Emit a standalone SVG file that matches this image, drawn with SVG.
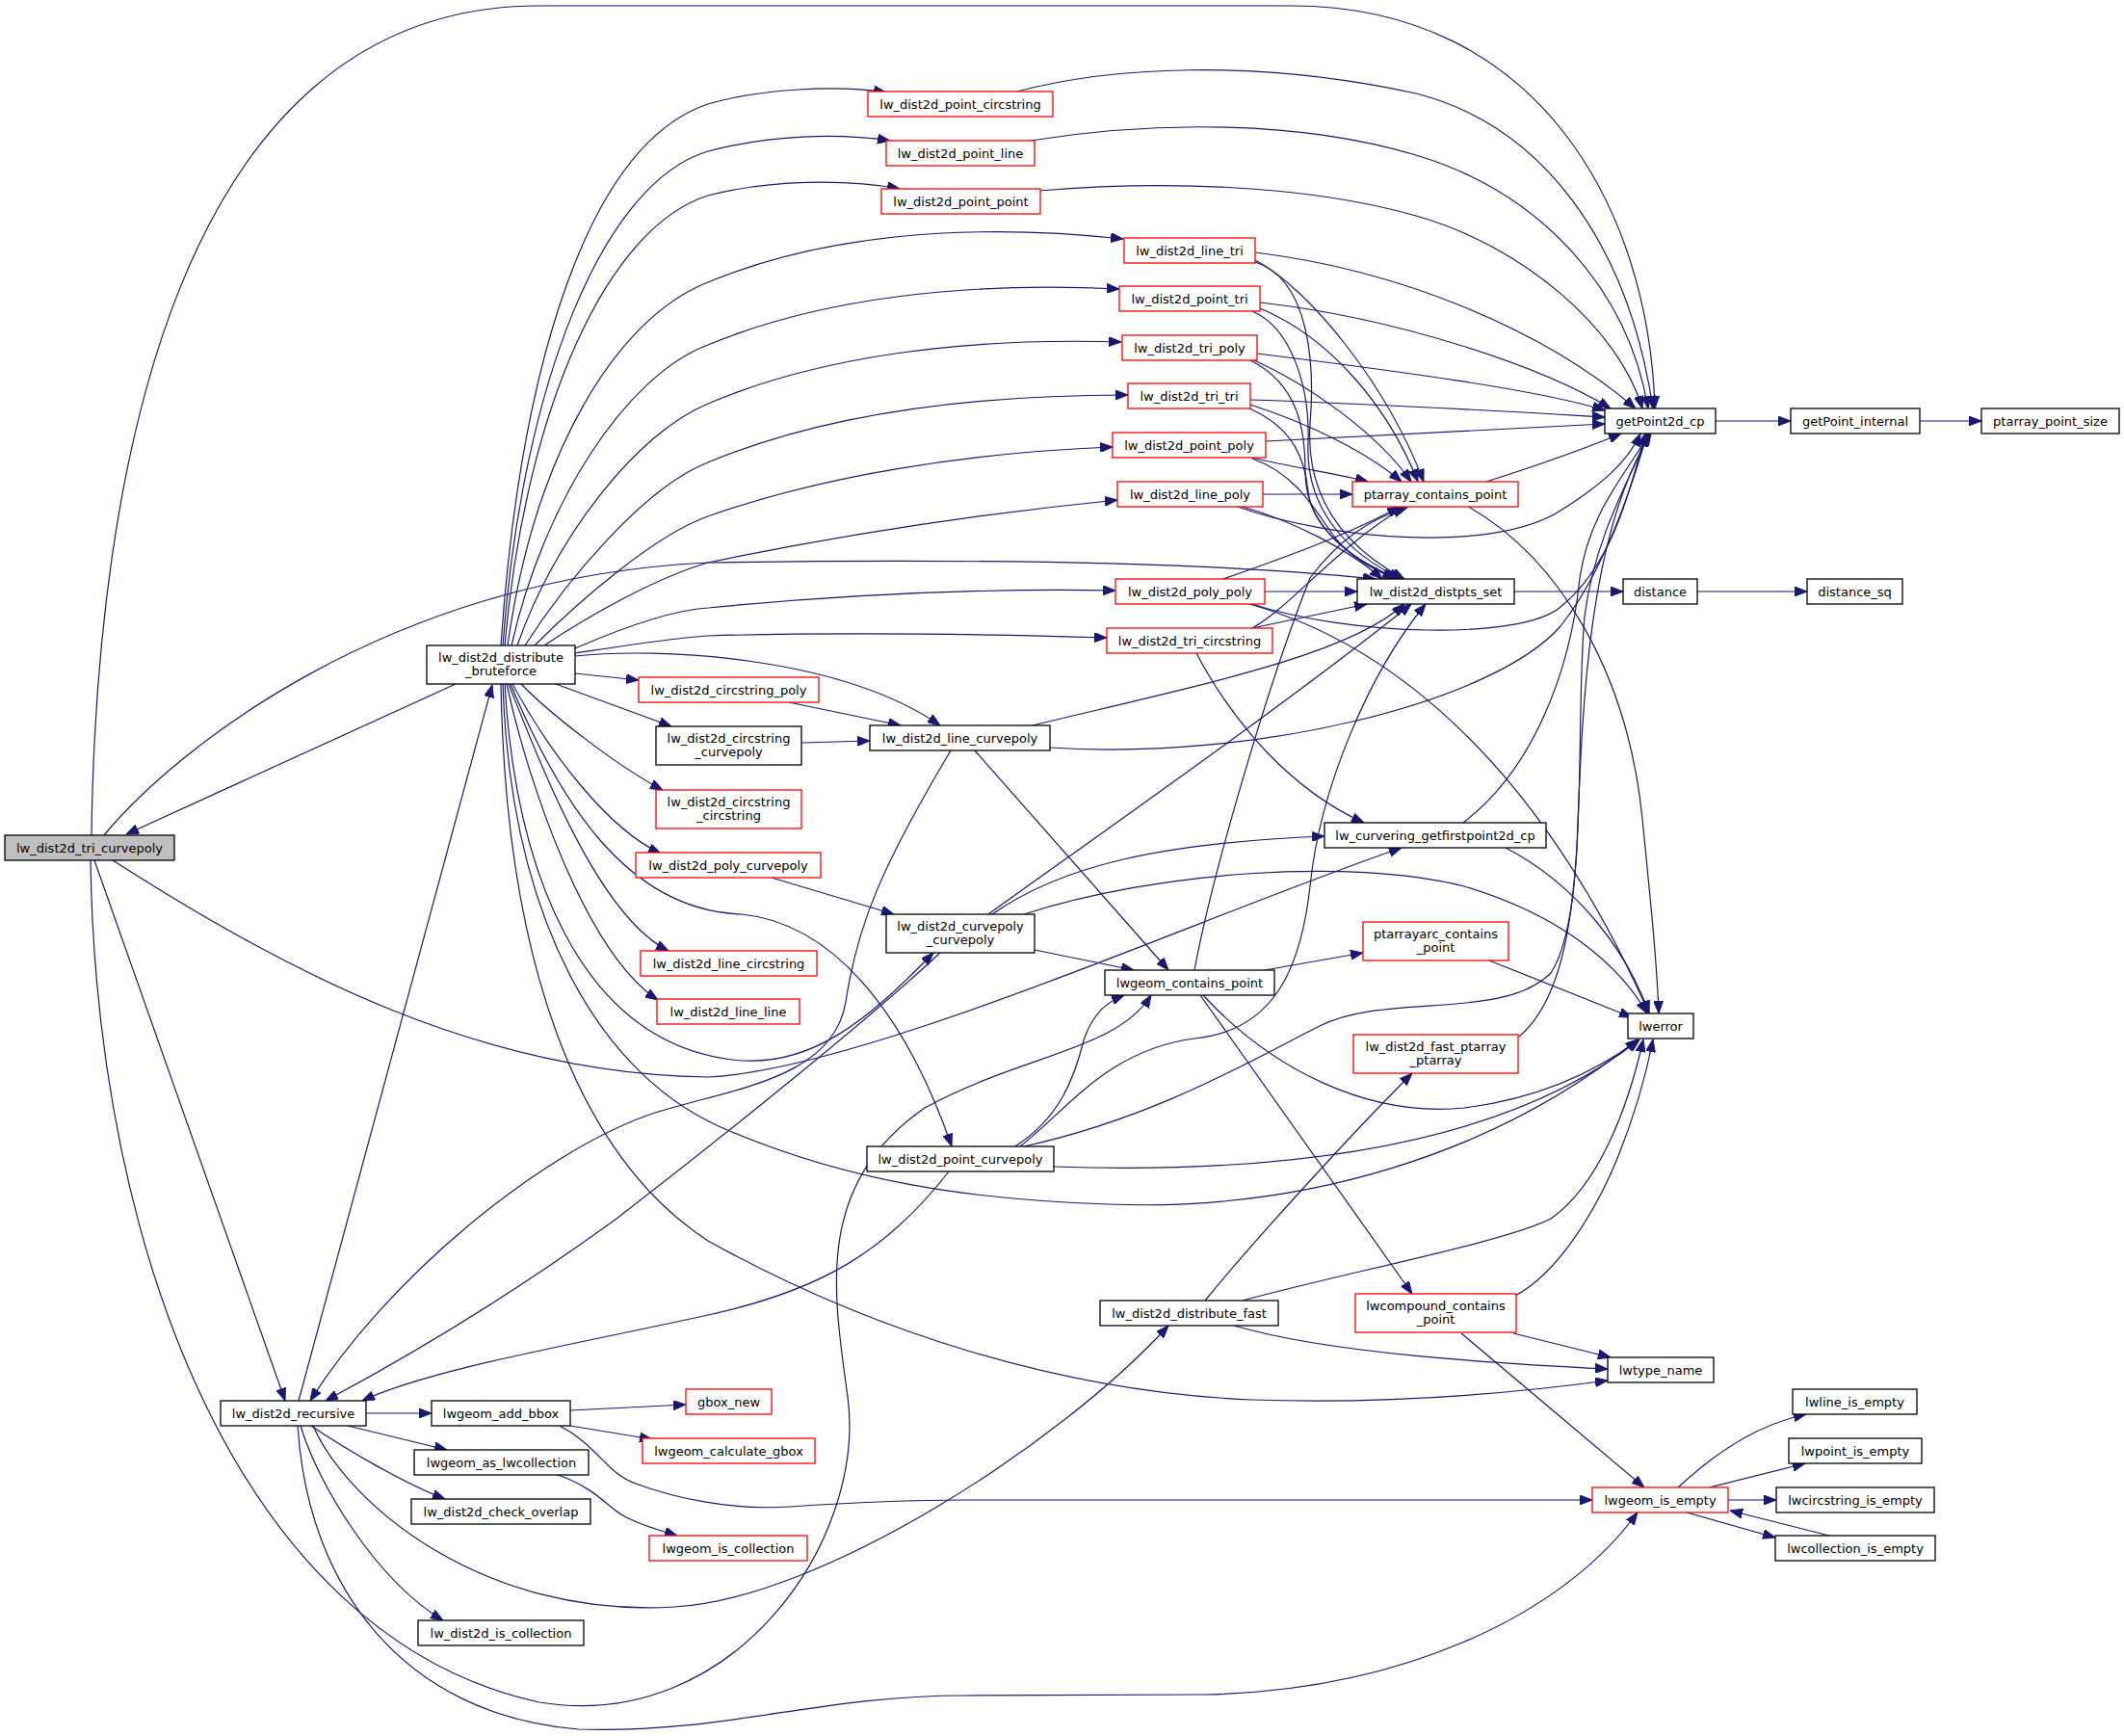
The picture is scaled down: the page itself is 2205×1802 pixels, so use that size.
<svg xmlns="http://www.w3.org/2000/svg" width="2205" height="1802" viewBox="0 0 2205 1802">
<defs>
<marker id="a" viewBox="0 0 13 10" refX="13" refY="5" markerWidth="13" markerHeight="10" markerUnits="userSpaceOnUse" orient="auto"><path d="M0,0L13,5L0,10z" fill="#191970" stroke="#191970" stroke-width="1"/></marker>
</defs>
<style>
.node rect{fill:#fff;stroke:#000;stroke-width:1.3}
.node.red rect{stroke:#ff0000}
.node.root rect{fill:#bfbfbf}
text{font-family:"DejaVu Sans","Liberation Sans",sans-serif;font-size:13px;text-anchor:middle;fill:#000}
#edges path{fill:none;stroke:#191970;stroke-width:1.2;marker-end:url(#a)}
</style>
<rect width="2205" height="1802" fill="#fff"/>
<g id="edges">
<path d="M95,867 C100,500 180,6 560,6 L1340,6 C1600,6 1712,220 1718,424"/>
<path d="M108,867 C180,780 400,600 735,584 C1000,580 1250,582 1428,601"/>
<path d="M98,893 L296,1454"/>
<path d="M117,893 C300,1010 500,1115 735,1118 C900,1110 1250,950 1455,880"/>
<path d="M94,893 C100,1300 250,1700 560,1767 C760,1800 900,1600 880,1450 C865,1340 845,1230 960,1150 C1060,1095 1160,1090 1195,1033"/>
<path d="M473,710 L131,866"/>
<path d="M520,670 C540,380 610,150 735,108 C790,92 870,88 920,96"/>
<path d="M522,670 C542,400 625,190 735,157 C800,140 870,138 924,146"/>
<path d="M524,670 C546,420 632,235 735,203 C800,186 880,186 934,196"/>
<path d="M527,670 C555,470 640,330 735,293 C850,245 1000,230 1166,248"/>
<path d="M531,670 C565,520 650,390 735,358 C850,310 1000,292 1162,300"/>
<path d="M537,670 C575,560 660,450 735,419 C850,370 1000,350 1164,355"/>
<path d="M545,670 C590,600 670,505 735,480 C850,432 1000,410 1171,410"/>
<path d="M555,670 C600,625 680,555 735,536 C850,495 1000,470 1155,464"/>
<path d="M565,670 C610,640 680,600 735,584 C850,560 1000,535 1160,519"/>
<path d="M597,673 C650,650 700,633 735,631 C900,615 1050,611 1158,613"/>
<path d="M597,678 C650,670 700,662 735,660 C900,655 1050,659 1149,662"/>
<path d="M597,681 C680,672 870,680 976,753"/>
<path d="M597,699 L663,706"/>
<path d="M577,710 L697,754"/>
<path d="M541,710 C570,740 640,795 688,820"/>
<path d="M532,710 C570,780 630,860 686,886"/>
<path d="M528,710 C560,790 620,950 694,987"/>
<path d="M526,710 C550,820 610,990 683,1038"/>
<path d="M530,710 C580,830 650,945 770,949 C880,960 950,1080 988,1190"/>
<path d="M524,710 C535,900 600,1080 760,1100 C840,1110 900,1060 969,989"/>
<path d="M522,710 C530,950 620,1120 760,1175 C880,1225 1000,1245 1150,1250 C1350,1258 1550,1200 1700,1079"/>
<path d="M520,710 C525,1000 600,1200 735,1288 C900,1380 1100,1445 1300,1453 C1450,1458 1580,1445 1669,1433"/>
<path d="M310,1454 L511,711"/>
<path d="M1056,95 C1150,70 1300,60 1470,97 C1600,130 1690,250 1716,424"/>
<path d="M1070,146 C1200,125 1350,125 1470,161 C1600,200 1690,300 1711,424"/>
<path d="M1079,198 C1200,188 1350,190 1470,224 C1580,255 1680,340 1705,424"/>
<path d="M1303,262 C1450,280 1600,340 1698,424"/>
<path d="M1308,314 C1450,330 1600,380 1672,424"/>
<path d="M1305,367 C1450,385 1600,405 1666,426"/>
<path d="M1298,415 C1450,420 1580,428 1666,433"/>
<path d="M1314,458 C1450,452 1580,444 1666,440"/>
<path d="M1303,270 C1360,300 1440,400 1478,500"/>
<path d="M1303,272 C1360,290 1365,380 1360,440 C1355,520 1400,570 1458,601"/>
<path d="M1308,320 C1380,350 1440,420 1472,500"/>
<path d="M1300,323 C1340,340 1360,400 1358,460 C1355,530 1400,575 1455,601"/>
<path d="M1300,373 C1360,400 1430,450 1465,500"/>
<path d="M1298,374 C1350,400 1355,450 1355,490 C1355,545 1400,580 1452,601"/>
<path d="M1298,420 C1360,440 1420,470 1455,500"/>
<path d="M1297,424 C1345,445 1355,480 1358,510 C1362,550 1410,585 1450,601"/>
<path d="M1300,475 C1340,485 1390,492 1420,500"/>
<path d="M1300,476 C1340,490 1360,520 1380,550 C1400,580 1430,592 1448,601"/>
<path d="M1311,513 L1404,513"/>
<path d="M1290,526 C1340,540 1400,570 1435,601"/>
<path d="M1285,526 C1380,560 1550,575 1620,530 C1660,505 1690,480 1703,450"/>
<path d="M1543,500 C1590,485 1640,468 1683,450"/>
<path d="M1523,525 C1620,580 1690,700 1705,850 C1715,950 1720,1000 1722,1052"/>
<path d="M1312,614 L1409,614"/>
<path d="M1300,627 C1400,660 1580,665 1620,630 C1670,590 1690,520 1708,450"/>
<path d="M1270,601 C1330,580 1400,555 1453,526"/>
<path d="M1297,627 C1450,670 1600,800 1712,1052"/>
<path d="M1300,652 C1340,630 1385,570 1458,526"/>
<path d="M1300,652 L1419,627"/>
<path d="M1242,678 C1280,750 1340,820 1416,854"/>
<path d="M1572,614 L1685,614"/>
<path d="M1762,614 L1876,614"/>
<path d="M1781,437 L1859,437"/>
<path d="M1993,437 L2057,437"/>
<path d="M819,729 L935,753"/>
<path d="M832,771 L903,769"/>
<path d="M801,911 L928,949"/>
<path d="M1072,753 C1250,710 1400,680 1458,627"/>
<path d="M1090,776 C1300,790 1550,730 1620,650 C1660,600 1690,520 1710,450"/>
<path d="M1012,779 L1213,1007"/>
<path d="M987,779 C915,900 890,960 878,1040 C865,1120 760,1130 680,1155 C560,1195 400,1330 322,1454"/>
<path d="M1026,949 C1150,860 1350,720 1465,627"/>
<path d="M1030,949 C1100,900 1200,875 1375,868"/>
<path d="M1063,949 C1200,905 1400,890 1520,920 C1620,950 1680,1000 1710,1052"/>
<path d="M1074,986 L1177,1007"/>
<path d="M976,989 C900,1060 750,1180 640,1265 C530,1345 420,1410 338,1454"/>
<path d="M1054,1190 C1100,1160 1115,1120 1125,1080 C1135,1050 1150,1040 1167,1033"/>
<path d="M1059,1190 C1110,1150 1150,1090 1240,1078 C1320,1070 1350,1010 1360,920 C1370,820 1420,700 1480,627"/>
<path d="M1063,1190 C1200,1160 1300,1100 1370,1065 C1440,1030 1560,1060 1610,1010 C1650,950 1635,750 1645,640 C1655,560 1690,500 1712,450"/>
<path d="M1094,1211 C1300,1218 1550,1200 1702,1079"/>
<path d="M985,1216 C920,1300 850,1340 735,1365 C600,1395 450,1420 376,1454"/>
<path d="M1313,1007 L1415,989"/>
<path d="M1246,1033 L1466,1343"/>
<path d="M1249,1033 C1320,1110 1420,1160 1520,1150 C1600,1140 1660,1110 1702,1079"/>
<path d="M1240,1007 C1260,900 1320,700 1360,600 C1390,560 1420,540 1462,526"/>
<path d="M1519,854 C1590,800 1630,700 1640,600 C1650,530 1690,490 1712,450"/>
<path d="M1563,880 C1640,920 1690,990 1712,1052"/>
<path d="M1546,997 L1694,1056"/>
<path d="M1577,1076 C1620,1040 1632,960 1637,880 C1642,760 1645,560 1714,450"/>
<path d="M1251,1350 C1300,1290 1400,1180 1466,1114"/>
<path d="M1281,1376 C1380,1405 1550,1415 1669,1421"/>
<path d="M1290,1350 C1400,1320 1560,1290 1610,1265 C1660,1230 1690,1150 1706,1079"/>
<path d="M1573,1345 C1620,1320 1660,1250 1680,1200 C1700,1150 1710,1110 1716,1079"/>
<path d="M1571,1384 L1672,1409"/>
<path d="M1517,1384 L1707,1544"/>
<path d="M380,1467 L448,1467"/>
<path d="M361,1480 L464,1505"/>
<path d="M323,1480 C360,1505 420,1540 462,1556"/>
<path d="M312,1480 C330,1540 390,1640 460,1682"/>
<path d="M309,1480 C320,1650 420,1780 600,1795 C750,1800 850,1760 1000,1760 L1250,1759 C1450,1755 1620,1680 1700,1570"/>
<path d="M325,1480 C360,1560 500,1680 700,1668 C850,1660 1100,1500 1213,1376"/>
<path d="M592,1464 L712,1458"/>
<path d="M592,1480 L677,1494"/>
<path d="M581,1480 C620,1500 630,1530 660,1540 C700,1555 760,1568 820,1564 C880,1560 940,1557 1000,1557 L1653,1557"/>
<path d="M579,1531 C620,1545 630,1565 650,1575 C670,1585 690,1590 703,1594"/>
<path d="M1742,1544 C1790,1500 1830,1478 1875,1468"/>
<path d="M1775,1544 L1874,1519"/>
<path d="M1794,1557 L1844,1557"/>
<path d="M1751,1570 L1843,1596"/>
<path d="M1899,1594 L1796,1568"/>
</g>
<g id="n_tri_curvepoly" class="node root"><rect x="5" y="867" width="176" height="26"/><text x="93" y="884.5">lw_dist2d_tri_curvepoly</text></g>
<g id="n_bruteforce" class="node"><rect x="443" y="670" width="154" height="40"/><text x="520" y="686.5">lw_dist2d_distribute</text><text x="520" y="701">_bruteforce</text></g>
<g id="n_recursive" class="node"><rect x="229" y="1454" width="151" height="26"/><text x="304.5" y="1471.5">lw_dist2d_recursive</text></g>
<g id="n_point_circstring" class="node red"><rect x="901" y="95" width="192" height="26"/><text x="997" y="112.5">lw_dist2d_point_circstring</text></g>
<g id="n_point_line" class="node red"><rect x="920" y="146" width="154" height="26"/><text x="997" y="163.5">lw_dist2d_point_line</text></g>
<g id="n_point_point" class="node red"><rect x="915" y="196" width="165" height="26"/><text x="997.5" y="213.5">lw_dist2d_point_point</text></g>
<g id="n_line_tri" class="node red"><rect x="1167" y="247" width="136" height="26"/><text x="1235" y="264.5">lw_dist2d_line_tri</text></g>
<g id="n_point_tri" class="node red"><rect x="1162" y="297" width="146" height="26"/><text x="1235" y="314.5">lw_dist2d_point_tri</text></g>
<g id="n_tri_poly" class="node red"><rect x="1165" y="348" width="140" height="26"/><text x="1235" y="365.5">lw_dist2d_tri_poly</text></g>
<g id="n_tri_tri" class="node red"><rect x="1171" y="398" width="127" height="26"/><text x="1234.5" y="415.5">lw_dist2d_tri_tri</text></g>
<g id="n_point_poly" class="node red"><rect x="1155" y="449" width="159" height="26"/><text x="1234.5" y="466.5">lw_dist2d_point_poly</text></g>
<g id="n_line_poly" class="node red"><rect x="1160" y="500" width="151" height="26"/><text x="1235.5" y="517.5">lw_dist2d_line_poly</text></g>
<g id="n_poly_poly" class="node red"><rect x="1158" y="601" width="155" height="26"/><text x="1235.5" y="618.5">lw_dist2d_poly_poly</text></g>
<g id="n_tri_circstring" class="node red"><rect x="1149" y="652" width="172" height="26"/><text x="1235" y="669.5">lw_dist2d_tri_circstring</text></g>
<g id="n_circstring_poly" class="node red"><rect x="663" y="703" width="187" height="26"/><text x="756.5" y="720.5">lw_dist2d_circstring_poly</text></g>
<g id="n_circstring_curvepoly" class="node"><rect x="681" y="754" width="151" height="40"/><text x="756.5" y="770.5">lw_dist2d_circstring</text><text x="756.5" y="785">_curvepoly</text></g>
<g id="n_circstring_circstring" class="node red"><rect x="681" y="820" width="151" height="40"/><text x="756.5" y="836.5">lw_dist2d_circstring</text><text x="756.5" y="851">_circstring</text></g>
<g id="n_poly_curvepoly" class="node red"><rect x="660" y="885" width="192" height="26"/><text x="756" y="902.5">lw_dist2d_poly_curvepoly</text></g>
<g id="n_line_circstring" class="node red"><rect x="665" y="987" width="183" height="26"/><text x="756.5" y="1004.5">lw_dist2d_line_circstring</text></g>
<g id="n_line_line" class="node red"><rect x="682" y="1037" width="148" height="26"/><text x="756" y="1054.5">lw_dist2d_line_line</text></g>
<g id="n_line_curvepoly" class="node"><rect x="903" y="753" width="187" height="26"/><text x="996.5" y="770.5">lw_dist2d_line_curvepoly</text></g>
<g id="n_curvepoly_curvepoly" class="node"><rect x="920" y="949" width="154" height="40"/><text x="997" y="965.5">lw_dist2d_curvepoly</text><text x="997" y="980">_curvepoly</text></g>
<g id="n_point_curvepoly" class="node"><rect x="900" y="1190" width="194" height="26"/><text x="997" y="1207.5">lw_dist2d_point_curvepoly</text></g>
<g id="n_lwgeom_contains_point" class="node"><rect x="1147" y="1007" width="176" height="26"/><text x="1235" y="1024.5">lwgeom_contains_point</text></g>
<g id="n_distpts_set" class="node"><rect x="1409" y="601" width="163" height="26"/><text x="1490.5" y="618.5">lw_dist2d_distpts_set</text></g>
<g id="n_ptarray_contains_point" class="node red"><rect x="1404" y="500" width="172" height="26"/><text x="1490" y="517.5">ptarray_contains_point</text></g>
<g id="n_curvering" class="node"><rect x="1375" y="854" width="230" height="26"/><text x="1490" y="871.5">lw_curvering_getfirstpoint2d_cp</text></g>
<g id="n_ptarrayarc" class="node red"><rect x="1415" y="957" width="151" height="40"/><text x="1490.5" y="973.5">ptarrayarc_contains</text><text x="1490.5" y="988">_point</text></g>
<g id="n_fast_ptarray" class="node red"><rect x="1405" y="1074" width="171" height="40"/><text x="1490.5" y="1090.5">lw_dist2d_fast_ptarray</text><text x="1490.5" y="1105">_ptarray</text></g>
<g id="n_distribute_fast" class="node"><rect x="1142" y="1350" width="185" height="26"/><text x="1234.5" y="1367.5">lw_dist2d_distribute_fast</text></g>
<g id="n_lwcompound" class="node red"><rect x="1407" y="1343" width="167" height="40"/><text x="1490.5" y="1359.5">lwcompound_contains</text><text x="1490.5" y="1374">_point</text></g>
<g id="n_getPoint2d_cp" class="node"><rect x="1666" y="424" width="115" height="26"/><text x="1723.5" y="441.5">getPoint2d_cp</text></g>
<g id="n_getPoint_internal" class="node"><rect x="1859" y="424" width="134" height="26"/><text x="1926" y="441.5">getPoint_internal</text></g>
<g id="n_ptarray_point_size" class="node"><rect x="2057" y="424" width="143" height="26"/><text x="2128.5" y="441.5">ptarray_point_size</text></g>
<g id="n_distance" class="node"><rect x="1685" y="601" width="77" height="26"/><text x="1723.5" y="618.5">distance</text></g>
<g id="n_distance_sq" class="node"><rect x="1876" y="601" width="99" height="26"/><text x="1925.5" y="618.5">distance_sq</text></g>
<g id="n_lwerror" class="node"><rect x="1690" y="1052" width="68" height="26"/><text x="1724" y="1069.5">lwerror</text></g>
<g id="n_lwtype_name" class="node"><rect x="1669" y="1409" width="110" height="26"/><text x="1724" y="1426.5">lwtype_name</text></g>
<g id="n_lwgeom_is_empty" class="node red"><rect x="1653" y="1544" width="141" height="26"/><text x="1723.5" y="1561.5">lwgeom_is_empty</text></g>
<g id="n_lwline_is_empty" class="node"><rect x="1861" y="1442" width="129" height="26"/><text x="1925.5" y="1459.5">lwline_is_empty</text></g>
<g id="n_lwpoint_is_empty" class="node"><rect x="1857" y="1493" width="138" height="26"/><text x="1926" y="1510.5">lwpoint_is_empty</text></g>
<g id="n_lwcircstring_is_empty" class="node"><rect x="1844" y="1544" width="164" height="26"/><text x="1926" y="1561.5">lwcircstring_is_empty</text></g>
<g id="n_lwcollection_is_empty" class="node"><rect x="1843" y="1594" width="166" height="26"/><text x="1926" y="1611.5">lwcollection_is_empty</text></g>
<g id="n_lwgeom_add_bbox" class="node"><rect x="448" y="1454" width="144" height="26"/><text x="520" y="1471.5">lwgeom_add_bbox</text></g>
<g id="n_gbox_new" class="node red"><rect x="712" y="1442" width="89" height="26"/><text x="756.5" y="1459.5">gbox_new</text></g>
<g id="n_lwgeom_calculate_gbox" class="node red"><rect x="667" y="1493" width="179" height="26"/><text x="756.5" y="1510.5">lwgeom_calculate_gbox</text></g>
<g id="n_lwgeom_as_lwcollection" class="node"><rect x="430" y="1505" width="181" height="26"/><text x="520.5" y="1522.5">lwgeom_as_lwcollection</text></g>
<g id="n_check_overlap" class="node"><rect x="427" y="1556" width="186" height="26"/><text x="520" y="1573.5">lw_dist2d_check_overlap</text></g>
<g id="n_lwgeom_is_collection" class="node red"><rect x="674" y="1594" width="164" height="26"/><text x="756" y="1611.5">lwgeom_is_collection</text></g>
<g id="n_dist2d_is_collection" class="node"><rect x="434" y="1682" width="172" height="26"/><text x="520" y="1699.5">lw_dist2d_is_collection</text></g>
</svg>
